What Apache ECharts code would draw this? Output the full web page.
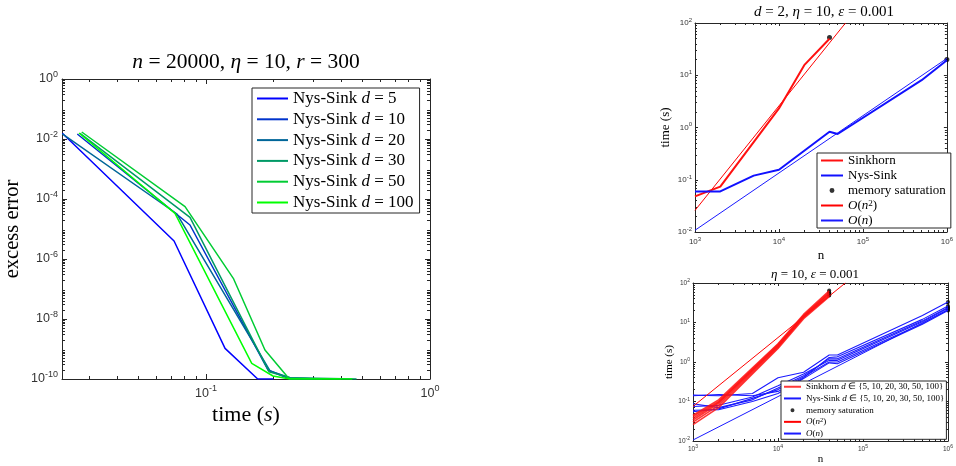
<!DOCTYPE html>
<html><head><meta charset="utf-8">
<script src="https://cdn.jsdelivr.net/npm/echarts@6/dist/echarts.min.js"></script>
<style>html,body{margin:0;padding:0;background:#fff}#c{width:956px;height:466px}</style>
</head><body><div id="c"></div>
<script>
// ---------------- DATA ----------------
// Left panel: excess error vs time (n=20000, eta=10, r=300)
const time_d5   = [0.02283, 0.0720, 0.1216, 0.1701, 0.200];
const err_d5    = [0.0155, 3.98e-6, 1.05e-9, 1e-10, 1e-10];
const time_d10  = [0.02662, 0.0848, 0.1891, 0.2371, 0.300];
const err_d10   = [0.0147, 1.36e-5, 2.0e-10, 1e-10, 1e-10];
const time_d20  = [0.02283, 0.0742, 0.1931, 0.2371, 0.330];
const err_d20   = [0.0147, 3.16e-5, 1.85e-10, 1.1e-10, 1e-10];
const time_d30  = [0.02738, 0.0848, 0.1911, 0.2371, 0.470];
const err_d30   = [0.0153, 2.45e-5, 1.75e-10, 1.1e-10, 1e-10];
const time_d50  = [0.02787, 0.0806, 0.1324, 0.1833, 0.2354, 0.400];
const err_d50   = [0.0171, 5.54e-5, 2.27e-7, 9.26e-10, 1.0e-10, 1e-10];
const time_d100 = [0.0271, 0.0727, 0.160, 0.199, 0.237, 0.450];
const err_d100  = [0.0158, 3.3e-5, 3.34e-10, 1.26e-10, 1e-10, 1e-10];

// Top-right panel: d=2
const sinkN = [1000, 2000, 10000, 20000, 40000];
const sinkT = [0.048, 0.074, 2.32, 15.6, 50];
const nysN  = [1000, 2000, 5000, 10000, 20000, 40000, 50000, 500000, 1000000];
const nysT  = [0.0597, 0.0597, 0.12, 0.155, 0.36, 0.83, 0.75, 8.05, 19.4];
const on2N = [1000, 62000];
const on2T = [0.0259, 100];
const onN  = [1000, 1000000];
const onT  = [0.0108, 21];
const memN = [40000, 1000000];
const memT = [52.5, 20];

// Bottom-right panel: d in {5,10,20,30,50,100}
const nSinkB = [1000, 2000, 10000, 20000, 40000];
const sinkB_d5   = [0.026, 0.070, 2.2, 12.5, 45];
const sinkB_d10  = [0.030, 0.080, 2.35, 13.5, 48];
const sinkB_d20  = [0.034, 0.090, 2.5, 14, 52];
const sinkB_d30  = [0.038, 0.095, 2.6, 14.5, 55];
const sinkB_d50  = [0.042, 0.100, 2.75, 15, 58];
const sinkB_d100 = [0.045, 0.110, 2.9, 16, 63];
const nNysB = [1000, 2000, 5000, 10000, 20000, 40000, 50000, 500000, 1000000];
const nysB_d5   = [0.060, 0.062, 0.10, 0.16, 0.38, 0.95, 0.90, 9.0, 20];
const nysB_d10  = [0.055, 0.065, 0.12, 0.20, 0.42, 1.0, 1.0, 9.5, 21];
const nysB_d20  = [0.075, 0.080, 0.13, 0.25, 0.50, 1.1, 1.1, 10.5, 23];
const nysB_d30  = [0.088, 0.070, 0.11, 0.22, 0.45, 1.2, 1.2, 11, 24];
const nysB_d50  = [0.140, 0.150, 0.14, 0.18, 0.40, 1.3, 1.35, 12, 26];
const nysB_d100 = [0.145, 0.140, 0.16, 0.40, 0.55, 1.5, 1.5, 15, 33];
const on2BN = [1000, 62000];
const on2BT = [0.075, 100];
const onBN  = [1000, 1000000];
const onBT  = [0.0106, 21];
const memBN = [40000, 40000, 40000, 40000, 40000, 40000, 1000000, 1000000, 1000000, 1000000, 1000000, 1000000];
const memBT = [65, 58, 55, 52, 50, 48, 33, 26, 24, 23, 21, 20];

// Tick values
const leftXTicks  = [0.1, 1];
const leftYTicks  = [1e-10, 1e-8, 1e-6, 1e-4, 1e-2, 1];
const rightXTicks = [1e3, 1e4, 1e5, 1e6];
const rightYTicks = [1e-2, 1e-1, 1, 10, 100];

// ---------------- HELPERS ----------------
const SERIF = 'Liberation Serif';
const SANS = 'Liberation Sans';
const AX = '#262626';
const zip = (a, b) => a.map((v, i) => [v, b[i]]);
function minorTicks(lo, hi) {
  const out = [];
  for (let k = Math.floor(Math.log10(lo)); k <= Math.ceil(Math.log10(hi)); k++) {
    for (let m = 2; m <= 9; m++) { const v = m * Math.pow(10, k); if (v > lo * 1.0001 && v < hi * 0.9999) out.push(v); }
  }
  return out;
}
function fmtPow(v) { return '{b|10}{s|' + Math.round(Math.log10(v)) + '}'; }

const xAxes = [], yAxes = [];
function addAxes(list, dim, gi, min, max, majors, o) {
  const minors = minorTicks(min, max);
  const pMain = dim === 'x' ? 'bottom' : 'left';
  const pOpp = dim === 'x' ? 'top' : 'right';
  const base = { type: 'log', logBase: 10, gridIndex: gi, min: min, max: max, silent: true,
    splitLine: { show: false }, minorTick: { show: false }, minorSplitLine: { show: false } };
  const lineOn = { show: true, lineStyle: { color: AX, width: o.lw } };
  const lineOff = { show: false };
  const idx = list.length;
  list.push(Object.assign({}, base, {
    position: pMain, axisLine: lineOn,
    axisTick: { show: true, inside: true, length: o.maj, customValues: majors, lineStyle: { color: AX, width: o.lw } },
    axisLabel: { show: true, customValues: majors, margin: o.margin, formatter: fmtPow, color: AX,
      rich: { b: { fontSize: o.lf, fontFamily: SANS, color: '#333', lineHeight: o.lf * 1.45 },
              s: { fontSize: o.sf, fontFamily: SANS, color: '#333', lineHeight: o.sf, verticalAlign: 'top' } } },
    name: o.name, nameLocation: 'middle', nameGap: o.nameGap,
    nameTextStyle: { fontFamily: SERIF, fontSize: o.nf, color: AX, rich: o.nameRich }
  }));
  list.push(Object.assign({}, base, { position: pMain, axisLine: lineOff, axisLabel: { show: false },
    axisTick: { show: true, inside: true, length: o.min, customValues: minors, lineStyle: { color: AX, width: o.lw } } }));
  list.push(Object.assign({}, base, { position: pOpp, axisLine: lineOn, axisLabel: { show: false },
    axisTick: { show: true, inside: true, length: o.maj, customValues: majors, lineStyle: { color: AX, width: o.lw } } }));
  list.push(Object.assign({}, base, { position: pOpp, axisLine: lineOff, axisLabel: { show: false },
    axisTick: { show: true, inside: true, length: o.min, customValues: minors, lineStyle: { color: AX, width: o.lw } } }));
  return idx;
}

const italicRich = (fs, lh) => ({
  r: { fontFamily: SERIF, fontSize: fs, color: '#000', lineHeight: lh || fs * 1.3 },
  i: { fontFamily: SERIF, fontSize: fs, fontStyle: 'italic', color: '#000', lineHeight: lh || fs * 1.3 },
  sup: { fontFamily: SERIF, fontSize: fs * 0.7, color: '#000', lineHeight: fs * 0.7, verticalAlign: 'top' }
});

// Axes
const gx0 = addAxes(xAxes, 'x', 0, 0.02275, 1, leftXTicks, { lw: 1, maj: 5, min: 3, margin: 5, lf: 12.5, sf: 9,
  name: '{r|time (}{i|s}{r|)}', nameGap: 21, nf: 22, nameRich: italicRich(22) });
const gy0 = addAxes(yAxes, 'y', 0, 1e-10, 1, leftYTicks, { lw: 1, maj: 5, min: 3, margin: 4, lf: 12.5, sf: 9,
  name: '{r|excess error}', nameGap: 36, nf: 20.5, nameRich: italicRich(20.5) });
const gx1 = addAxes(xAxes, 'x', 1, 1e3, 1e6, rightXTicks, { lw: 1, maj: 3, min: 2, margin: 4, lf: 8, sf: 6,
  name: '{r|n}', nameGap: 15, nf: 13, nameRich: italicRich(13) });
const gy1 = addAxes(yAxes, 'y', 1, 1e-2, 1e2, rightYTicks, { lw: 1, maj: 3, min: 2, margin: 3, lf: 8, sf: 6,
  name: '{r|time (s)}', nameGap: 21, nf: 13, nameRich: italicRich(13) });
const gx2 = addAxes(xAxes, 'x', 2, 1e3, 1e6, rightXTicks, { lw: 1, maj: 3, min: 2, margin: 3, lf: 6.5, sf: 5,
  name: '{r|n}', nameGap: 9, nf: 11, nameRich: italicRich(11) });
const gy2 = addAxes(yAxes, 'y', 2, 1e-2, 1e2, rightYTicks, { lw: 1, maj: 3, min: 2, margin: 3, lf: 6.5, sf: 5,
  name: '{r|time (s)}', nameGap: 17, nf: 11, nameRich: italicRich(11) });

// Series
const series = [];
function line(name, xs, ys, xi, yi, color, width) {
  series.push({ type: 'line', name: name, data: zip(xs, ys), xAxisIndex: xi, yAxisIndex: yi,
    symbol: 'none', showSymbol: false, lineStyle: { color: color, width: width }, itemStyle: { color: color },
    emphasis: { disabled: true }, animation: false });
}
const leftColors = ['#0000ff', '#0033cc', '#006699', '#009966', '#00cc33', '#00ff00'];
const leftNames = ['Nys-Sink d = 5', 'Nys-Sink d = 10', 'Nys-Sink d = 20', 'Nys-Sink d = 30', 'Nys-Sink d = 50', 'Nys-Sink d = 100'];
const leftT = [time_d5, time_d10, time_d20, time_d30, time_d50, time_d100];
const leftE = [err_d5, err_d10, err_d20, err_d30, err_d50, err_d100];
for (let i = 0; i < 6; i++) line(leftNames[i], leftT[i], leftE[i], gx0, gy0, leftColors[i], 1.5);

// top-right
line('O(n^2)', on2N, on2T, gx1, gy1, '#ff0000', 1);
line('O(n)', onN, onT, gx1, gy1, '#1a1aff', 1);
line('Sinkhorn', sinkN, sinkT, gx1, gy1, '#ff1010', 2);
line('Nys-Sink', nysN, nysT, gx1, gy1, '#1010ff', 2);
series.push({ type: 'scatter', name: 'memory saturation', data: zip(memN, memT), xAxisIndex: gx1, yAxisIndex: gy1,
  symbol: 'circle', symbolSize: 5, itemStyle: { color: '#000' }, clip: false, animation: false });

// bottom-right
const SKB = 'Sinkhorn d ∈ {5, 10, 20, 30, 50, 100}';
const NSB = 'Nys-Sink d ∈ {5, 10, 20, 30, 50, 100}';
[nysB_d5, nysB_d10, nysB_d20, nysB_d30, nysB_d50, nysB_d100].forEach(a => line(NSB, nNysB, a, gx2, gy2, '#1a1aff', 1.1));
line('O(n)', onBN, onBT, gx2, gy2, '#1a1aff', 1);
line('O(n^2)', on2BN, on2BT, gx2, gy2, '#ff0000', 1);
[sinkB_d5, sinkB_d10, sinkB_d20, sinkB_d30, sinkB_d50, sinkB_d100].forEach(a => line(SKB, nSinkB, a, gx2, gy2, 'rgba(255,20,20,0.85)', 1.6));
series.push({ type: 'scatter', name: 'memory saturation', data: zip(memBN, memBT), xAxisIndex: gx2, yAxisIndex: gy2,
  symbol: 'circle', symbolSize: 4, itemStyle: { color: '#000' }, clip: false, animation: false });

const legendRich = {
  'Nys-Sink d = 5': 'Nys-Sink {i|d} = 5', 'Nys-Sink d = 10': 'Nys-Sink {i|d} = 10', 'Nys-Sink d = 20': 'Nys-Sink {i|d} = 20',
  'Nys-Sink d = 30': 'Nys-Sink {i|d} = 30', 'Nys-Sink d = 50': 'Nys-Sink {i|d} = 50', 'Nys-Sink d = 100': 'Nys-Sink {i|d} = 100',
  'O(n^2)': '{i|O}({i|n}{sup|2})', 'O(n)': '{i|O}({i|n})',
  [SKB]: 'Sinkhorn {i|d} ∈ {5, 10, 20, 30, 50, 100}', [NSB]: 'Nys-Sink {i|d} ∈ {5, 10, 20, 30, 50, 100}'
};
// small centred dot icon inside a 10x10 box
function dotIcon(r) {
  return 'path://M0,0L0.01,0M10,10L10.01,10M' + (5 - r) + ',5A' + r + ',' + r + ',0,1,0,' + (5 + r) + ',5A' + r + ',' + r + ',0,1,0,' + (5 - r) + ',5Z';
}
function legend(left, top, names, fs, lh, iw, gap, pad, dotR) {
  const data = names.map(n => n === 'memory saturation'
    ? { name: n, icon: dotIcon(dotR), itemStyle: { color: '#000', borderWidth: 0 } }
    : { name: n, itemStyle: { opacity: 0 } });
  return { left: left, top: top, orient: 'vertical', data: data, itemWidth: iw, itemHeight: lh, itemGap: gap,
    padding: pad, backgroundColor: '#fff', borderColor: AX, borderWidth: 1, borderRadius: 0, selectedMode: false,
    formatter: n => legendRich[n] || n,
    textStyle: { fontFamily: SERIF, fontSize: fs, lineHeight: lh, color: '#000', rich: italicRich(fs, lh) } };
}

const option = {
  animation: false,
  backgroundColor: '#fff',
  grid: [
    { left: 62, top: 79, width: 368, height: 300, show: false },
    { left: 695, top: 23, width: 258, height: 209, show: false },
    { left: 693, top: 283, width: 258, height: 158, show: false }
  ],
  title: [
    { text: '{i|n} = 20000, {i|η} = 10, {i|r} = 300', left: 246, top: 48, textAlign: 'center', padding: 0,
      textStyle: { fontFamily: SERIF, fontSize: 21.5, fontWeight: 'normal', color: '#000', rich: italicRich(21.5) } },
    { text: '{i|d} = 2, {i|η} = 10, {i|ε} = 0.001', left: 824, top: 2, textAlign: 'center', padding: 0,
      textStyle: { fontFamily: SERIF, fontSize: 15, fontWeight: 'normal', color: '#000', rich: italicRich(15) } },
    { text: '{i|η} = 10, {i|ε} = 0.001', left: 815, top: 266, textAlign: 'center', padding: 0,
      textStyle: { fontFamily: SERIF, fontSize: 13, fontWeight: 'normal', color: '#000', rich: italicRich(13) } }
  ],
  legend: [
    legend(252, 88, leftNames, 17, 17, 31, 3.8, [2, 6, 2, 4], 2),
    legend(817, 153, ['Sinkhorn', 'Nys-Sink', 'memory saturation', 'O(n^2)', 'O(n)'], 13, 13, 22, 2, [1, 5, 1, 3], 1.9),
    legend(781, 381, [SKB, NSB, 'memory saturation', 'O(n^2)', 'O(n)'], 9, 9.5, 17, 2.2, [1, 2, 1, 2], 2.1)
  ],
  xAxis: xAxes,
  yAxis: yAxes,
  series: series
};
const chart = echarts.init(document.getElementById('c'), null, { renderer: 'canvas' });
chart.setOption(option);
</script></body></html>
